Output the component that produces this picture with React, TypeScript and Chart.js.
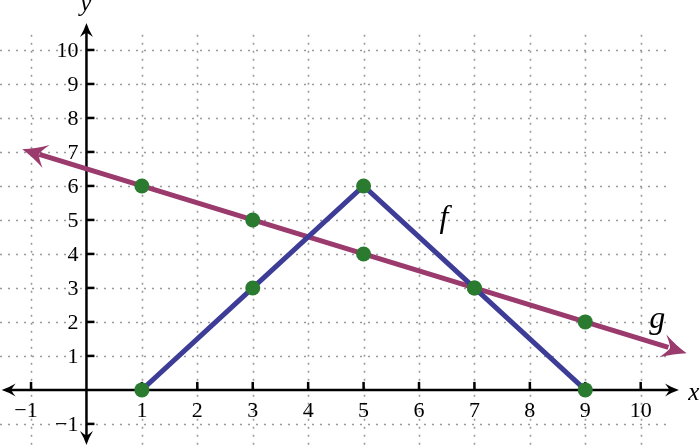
import React, { useEffect, useRef } from "react";
import { Chart, registerables } from "chart.js";

Chart.register(...registerables);

// ---- data ----
const fX = [1, 3, 5, 7, 9];
const fY = [0, 3, 6, 3, 0];
const gX = [1, 3, 5, 7, 9];
const gY = [6, 5, 4, 3, 2];
// g is a full line with arrows at both ends (tips, in data units)
const gTipLeft = { x: -1.16, y: 7.08 };
const gTipRight = { x: 10.83, y: 1.08 };
// line body ends a little inside the arrowheads
const gLineEnds = [
  { x: -0.85, y: 6.93 },
  { x: 10.5, y: 1.25 },
];
const xTicks = [-1, 1, 2, 3, 4, 5, 6, 7, 8, 9, 10];
const yTicks = [-1, 1, 2, 3, 4, 5, 6, 7, 8, 9, 10];
const xRange = { min: -1.56, max: 11.07 };
const yRange = { min: -1.65, max: 11.47 };
const xAxisEnds = { left: -1.53, right: 10.69 };
const yAxisEnds = { bottom: -1.62, top: 10.79 };
const gridExtent = { xMax: 10.5, yMax: 10.45 };
const fLabel = { text: "f", x: 6.45, y: 5.03 };
const gLabel = { text: "g", x: 10.3, y: 2.06 };
const xAxisLabel = { text: "x", x: 10.96, y: -0.09 };
const yAxisLabel = { text: "y", x: -0.01, y: 11.33 };

const F_COLOR = "#3d3d97";
const G_COLOR = "#9a3a6d";
const PT_COLOR = "#2a7a2f";
const SERIF = "'Liberation Serif'";

function fmt(v: number) {
  return v < 0 ? "\u2212" + Math.abs(v) : String(v);
}

function arrowHead(
  ctx: CanvasRenderingContext2D,
  tx: number,
  ty: number,
  dx: number,
  dy: number,
  len: number,
  half: number,
  color: string
) {
  const m = Math.hypot(dx, dy);
  const ux = dx / m;
  const uy = dy / m;
  const px = -uy;
  const py = ux;
  const bx = tx - ux * len;
  const by = ty - uy * len;
  const nx = tx - ux * len * 0.7;
  const ny = ty - uy * len * 0.7;
  ctx.save();
  ctx.fillStyle = color;
  ctx.beginPath();
  ctx.moveTo(tx, ty);
  ctx.quadraticCurveTo(
    tx - ux * len * 0.5 + px * half * 0.35,
    ty - uy * len * 0.5 + py * half * 0.35,
    bx + px * half,
    by + py * half
  );
  ctx.quadraticCurveTo(nx + px * half * 0.2, ny + py * half * 0.2, nx, ny);
  ctx.quadraticCurveTo(nx - px * half * 0.2, ny - py * half * 0.2, bx - px * half, by - py * half);
  ctx.quadraticCurveTo(
    tx - ux * len * 0.5 - px * half * 0.35,
    ty - uy * len * 0.5 - py * half * 0.35,
    tx,
    ty
  );
  ctx.closePath();
  ctx.fill();
  ctx.restore();
}

const backgroundPlugin = {
  id: "gridAxes",
  beforeDatasetsDraw(chart: any) {
    const ctx: CanvasRenderingContext2D = chart.ctx;
    const xs = chart.scales.x;
    const ys = chart.scales.y;
    const X = (v: number) => xs.getPixelForValue(v);
    const Y = (v: number) => ys.getPixelForValue(v);
    ctx.save();
    // grid
    ctx.strokeStyle = "#9a9a9a";
    ctx.lineWidth = 1.6;
    ctx.setLineDash([2, 6]);
    for (const v of xTicks) {
      ctx.beginPath();
      ctx.moveTo(Math.round(X(v)) + 0.5, Y(gridExtent.yMax));
      ctx.lineTo(Math.round(X(v)) + 0.5, Y(yRange.min));
      ctx.stroke();
    }
    for (const v of yTicks) {
      ctx.beginPath();
      ctx.moveTo(X(xRange.min), Math.round(Y(v)) + 0.5);
      ctx.lineTo(X(gridExtent.xMax), Math.round(Y(v)) + 0.5);
      ctx.stroke();
    }
    ctx.setLineDash([]);
    // axes
    const x0 = X(0);
    const y0 = Y(0);
    ctx.strokeStyle = "#000";
    ctx.lineWidth = 2.5;
    ctx.beginPath();
    ctx.moveTo(X(xAxisEnds.left) + 6, y0);
    ctx.lineTo(X(xAxisEnds.right) - 6, y0);
    ctx.stroke();
    ctx.beginPath();
    ctx.moveTo(x0, Y(yAxisEnds.top) + 6);
    ctx.lineTo(x0, Y(yAxisEnds.bottom) - 6);
    ctx.stroke();
    arrowHead(ctx, X(xAxisEnds.left), y0, -1, 0, 14, 6.5, "#000");
    arrowHead(ctx, X(xAxisEnds.right), y0, 1, 0, 14, 6.5, "#000");
    arrowHead(ctx, x0, Y(yAxisEnds.top), 0, -1, 14, 6.5, "#000");
    arrowHead(ctx, x0, Y(yAxisEnds.bottom), 0, 1, 14, 6.5, "#000");
    // ticks
    ctx.lineWidth = 2.5;
    for (const v of xTicks) {
      ctx.beginPath();
      ctx.moveTo(X(v), y0);
      ctx.lineTo(X(v), y0 - 8);
      ctx.stroke();
    }
    for (const v of yTicks) {
      ctx.beginPath();
      ctx.moveTo(x0, Y(v));
      ctx.lineTo(x0 + 8, Y(v));
      ctx.stroke();
    }
    // tick labels
    ctx.fillStyle = "#000";
    ctx.font = "22px " + SERIF;
    ctx.textAlign = "center";
    ctx.textBaseline = "middle";
    for (const v of xTicks) {
      ctx.fillText(fmt(v), X(v) + (v < 0 ? -5 : 0), y0 + 21);
    }
    ctx.textAlign = "right";
    for (const v of yTicks) {
      ctx.fillText(fmt(v), x0 - 8, Y(v) + 1);
    }
    // axis names
    ctx.font = "italic 25px " + SERIF;
    ctx.textAlign = "center";
    ctx.fillText(xAxisLabel.text, X(xAxisLabel.x), Y(xAxisLabel.y));
    ctx.fillText(yAxisLabel.text, X(yAxisLabel.x), Y(yAxisLabel.y));
    ctx.restore();
  },
  afterDatasetsDraw(chart: any) {
    const ctx: CanvasRenderingContext2D = chart.ctx;
    const xs = chart.scales.x;
    const ys = chart.scales.y;
    const X = (v: number) => xs.getPixelForValue(v);
    const Y = (v: number) => ys.getPixelForValue(v);
    const lx = X(gTipLeft.x), ly = Y(gTipLeft.y);
    const rx = X(gTipRight.x), ry = Y(gTipRight.y);
    arrowHead(ctx, lx, ly, lx - rx, ly - ry, 25, 12, G_COLOR);
    arrowHead(ctx, rx, ry, rx - lx, ry - ly, 25, 12, G_COLOR);
    ctx.save();
    ctx.fillStyle = "#000";
    ctx.font = "italic 32px " + SERIF;
    ctx.textAlign = "center";
    ctx.textBaseline = "middle";
    ctx.fillText(fLabel.text, X(fLabel.x), Y(fLabel.y));
    ctx.fillText(gLabel.text, X(gLabel.x), Y(gLabel.y));
    ctx.restore();
  },
};

export default function App() {
  const ref = useRef<HTMLCanvasElement | null>(null);
  useEffect(() => {
    document.body.style.margin = "0";
    const canvas = ref.current;
    if (!canvas) return;
    const fData = fX.map((x, i) => ({ x, y: fY[i] }));
    const gPts = gX.map((x, i) => ({ x, y: gY[i] }));
    const chart = new Chart(canvas, {
      type: "scatter",
      data: {
        datasets: [
          {
            label: "points",
            data: [...gPts, ...fData],
            backgroundColor: PT_COLOR,
            borderColor: PT_COLOR,
            pointRadius: 7.5,
            borderWidth: 0,
            showLine: false,
            order: 0,
          },
          {
            label: "f",
            data: fData,
            borderColor: F_COLOR,
            borderWidth: 5,
            pointRadius: 0,
            showLine: true,
            fill: false,
            order: 1,
          },
          {
            label: "g",
            data: gLineEnds,
            borderColor: G_COLOR,
            borderWidth: 5,
            pointRadius: 0,
            showLine: true,
            fill: false,
            order: 2,
          },
        ],
      },
      options: {
        responsive: false,
        animation: false,
        layout: { padding: 0, autoPadding: false },
        plugins: {
          legend: { display: false },
          tooltip: { enabled: false },
        },
        scales: {
          x: { type: "linear", min: xRange.min, max: xRange.max, display: false },
          y: { type: "linear", min: yRange.min, max: yRange.max, display: false },
        },
      },
      plugins: [backgroundPlugin],
    });
    return () => chart.destroy();
  }, []);
  return (
    <div style={{ position: "absolute", left: 0, top: 0, width: 700, height: 446, background: "#fff" }}>
      <canvas ref={ref} width={700} height={446} style={{ display: "block" }} />
    </div>
  );
}
